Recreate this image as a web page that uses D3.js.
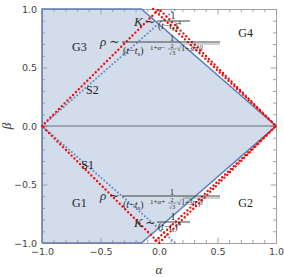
<!DOCTYPE html>
<html>
<head>
<meta charset="utf-8">
<script src="https://cdn.jsdelivr.net/npm/d3@7"></script>
<style>
body { margin: 0; background: #fff; }
text { font-family: "Liberation Serif", "DejaVu Serif", serif; }
.tick text { font-family: "DejaVu Sans", sans-serif; }
</style>
</head>
<body>
<script>
// data
var xTicks = [-1, -0.5, 0, 0.5, 1];
var yTicks = [-1, -0.5, 0, 0.5, 1];
var region = [[-1, -1], [-1, 1], [-0.15, 1], [1, 0], [-0.15, -1], [-1, -1]];
var redDiamond = [[-1, 0], [0, 1], [1, 0], [0, -1], [-1, 0]];
var redInner = [[-0.05, 1], [1, 0], [-0.05, -1]];
var blueUpper = [[-1, 0], [0.14, 1]];
var blueLower = [[-1, 0], [0.14, -1]];
var zeroLine = [[-1, 0], [1, 0]];
var regionLabels = [
	{ t: "G3", a: -0.68, b: 0.68 },
	{ t: "G4", a: 0.74, b: 0.80 },
	{ t: "G1", a: -0.68, b: -0.66 },
	{ t: "G2", a: 0.74, b: -0.66 },
	{ t: "S2", a: -0.57, b: 0.31 },
	{ t: "S1", a: -0.61, b: -0.33 }
];

var width = 284, height = 277;
var x = d3.scaleLinear().domain([-1, 1]).range([42, 276]);
var y = d3.scaleLinear().domain([-1, 1]).range([243, 9]);

var svg = d3.select("body").append("svg")
	.attr("width", width)
	.attr("height", height);

var line = d3.line()
	.x(function(d) { return x(d[0]); })
	.y(function(d) { return y(d[1]); });

// shaded region
svg.append("path")
	.attr("d", line(region))
	.attr("fill", "#d3dcea")
	.attr("stroke", "none");

// frame + ticks
function fmt(d) { return d3.format(".1f")(d).replace("-", "\u2212"); }
var minor = d3.range(-1, 1.001, 0.1);
function isMajor(d) { return Math.abs(Math.round(d * 2) - d * 2) < 1e-6; }

var sides = [
	{ gen: d3.axisBottom, tr: "translate(0," + y(-1) + ")", scale: x, lab: true },
	{ gen: d3.axisTop, tr: "translate(0," + y(1) + ")", scale: x, lab: false },
	{ gen: d3.axisLeft, tr: "translate(" + x(-1) + ",0)", scale: y, lab: true },
	{ gen: d3.axisRight, tr: "translate(" + x(1) + ",0)", scale: y, lab: false }
];
sides.forEach(function(s) {
	var g = svg.append("g").attr("transform", s.tr);
	g.call(s.gen(s.scale).tickValues(minor).tickSizeInner(-3).tickSizeOuter(0).tickFormat(""));
	g.select(".domain").attr("stroke", "#a0a0a0");
	g.selectAll(".tick line").attr("stroke", "#a0a0a0")
		.each(function(d) {
			var el = d3.select(this);
			["x2", "y2"].forEach(function(k) {
				var v = el.attr(k);
				if (v !== null && isMajor(d)) el.attr(k, v * 1.8);
			});
		});
	if (s.lab) {
		var g2 = svg.append("g").attr("transform", s.tr);
		g2.call(s.gen(s.scale).tickValues(s.scale === x ? xTicks : yTicks).tickSize(0).tickPadding(5).tickFormat(fmt));
		g2.select(".domain").remove();
		g2.selectAll("text").attr("fill", "#444").style("font-size", "9.5px");
	}
});

// region outline
svg.append("path")
	.attr("d", line(region))
	.attr("fill", "none")
	.attr("stroke", "#5a7fb8")
	.attr("stroke-width", 1.5);

// zero line
svg.append("path")
	.attr("d", line(zeroLine))
	.attr("stroke", "#6a7080")
	.attr("stroke-width", 1);

// blue dotted
[blueUpper, blueLower].forEach(function(p) {
	svg.append("path")
		.attr("d", line(p))
		.attr("fill", "none")
		.attr("stroke", "#5f86c4")
		.attr("stroke-width", 2)
		.attr("stroke-linecap", "round")
		.attr("stroke-dasharray", "0 3.6");
});

// red dotted
[redDiamond, redInner].forEach(function(p) {
	svg.append("path")
		.attr("d", line(p))
		.attr("fill", "none")
		.attr("stroke", "#f01010")
		.attr("stroke-width", 2.4)
		.attr("stroke-linecap", "round")
		.attr("stroke-dasharray", "0 4");
});

// region labels
svg.selectAll(".rl").data(regionLabels).enter().append("text")
	.attr("class", "rl")
	.attr("x", function(d) { return x(d.a); })
	.attr("y", function(d) { return y(d.b); })
	.attr("text-anchor", "middle")
	.attr("dy", "0.35em")
	.attr("fill", "#222")
	.style("font-size", "12px")
	.text(function(d) { return d.t; });

// formulas
var fcol = "#2a2a2a";
function denom(g, x0, yb, fs) {
	var d = g.append("text").attr("x", x0).attr("y", yb).style("font-size", fs + "px");
	d.append("tspan").text("(");
	d.append("tspan").style("font-style", "italic").text("t");
	d.append("tspan").text("\u2212");
	d.append("tspan").style("font-style", "italic").text("t");
	d.append("tspan").attr("dy", 1.5).style("font-size", (fs * 0.7) + "px").style("font-style", "italic").text("s");
	d.append("tspan").attr("dy", -1.5).text(")");
	return d;
}
function kFormula(cy) {
	var g = svg.append("g").attr("fill", fcol);
	g.append("text").attr("x", 134).attr("y", cy + 5).style("font-size", "13px").style("font-style", "italic").text("K");
	g.append("text").attr("x", 145).attr("y", cy + 5).style("font-size", "13px").text("\u223C");
	g.append("line").attr("x1", 157).attr("x2", 190).attr("y1", cy).attr("y2", cy).attr("stroke", "#444").attr("stroke-width", 1);
	g.append("text").attr("x", 173).attr("y", cy - 2).attr("text-anchor", "middle").style("font-size", "10px").text("1");
	var d = denom(g, 158, cy + 8, 9.5);
	d.append("tspan").attr("dy", -4).style("font-size", "7px").text("4");
}
function rhoFormula(cy, sign) {
	var g = svg.append("g").attr("fill", fcol);
	g.append("text").attr("x", 100).attr("y", cy + 4).style("font-size", "13px").style("font-style", "italic").text("\u03C1");
	g.append("text").attr("x", 109).attr("y", cy + 4).style("font-size", "13px").text("\u223C");
	g.append("line").attr("x1", 122).attr("x2", 220).attr("y1", cy).attr("y2", cy).attr("stroke", "#444").attr("stroke-width", 1);
	g.append("text").attr("x", 172).attr("y", cy - 1.5).attr("text-anchor", "middle").style("font-size", "9px").text("1");
	denom(g, 123, cy + 12, 10);
	var e = g.append("text").attr("x", 150).attr("y", cy + 7.5).style("font-size", "7px");
	e.append("tspan").text("1+");
	e.append("tspan").style("font-style", "italic").text("\u03B1");
	e.append("tspan").text(sign);
	g.append("text").attr("x", 172).attr("y", cy + 6).attr("text-anchor", "middle").style("font-size", "6px").text("2");
	g.append("line").attr("x1", 168).attr("x2", 176.5).attr("y1", cy + 7).attr("y2", cy + 7).attr("stroke", "#444").attr("stroke-width", 0.5);
	g.append("text").attr("x", 172).attr("y", cy + 12.5).attr("text-anchor", "middle").style("font-size", "6px").text("\u221A3");
	var r = g.append("text").attr("x", 177).attr("y", cy + 8.5).style("font-size", "7.5px");
	r.append("tspan").text("\u221A");
	r.append("tspan").text("1+3");
	r.append("tspan").style("font-style", "italic").text("n");
	r.append("tspan").attr("dy", -2.5).style("font-size", "5px").text("2");
	r.append("tspan").attr("dy", 2.5).style("font-style", "italic").text("\u03B2");
	g.append("line").attr("x1", 183).attr("x2", 220).attr("y1", cy + 2).attr("y2", cy + 2).attr("stroke", "#444").attr("stroke-width", 0.5);
}
kFormula(21);
rhoFormula(42, "\u2212");
rhoFormula(196, "+");
kFormula(222);

// axis titles
svg.append("text")
	.attr("x", x(0)).attr("y", 274)
	.attr("text-anchor", "middle")
	.style("font-size", "13px").style("font-style", "italic")
	.attr("fill", "#333")
	.text("\u03B1");
svg.append("text")
	.attr("transform", "translate(11," + y(0) + ") rotate(-90)")
	.attr("text-anchor", "middle")
	.style("font-size", "13px").style("font-style", "italic")
	.attr("fill", "#333")
	.text("\u03B2");
</script>
</body>
</html>
